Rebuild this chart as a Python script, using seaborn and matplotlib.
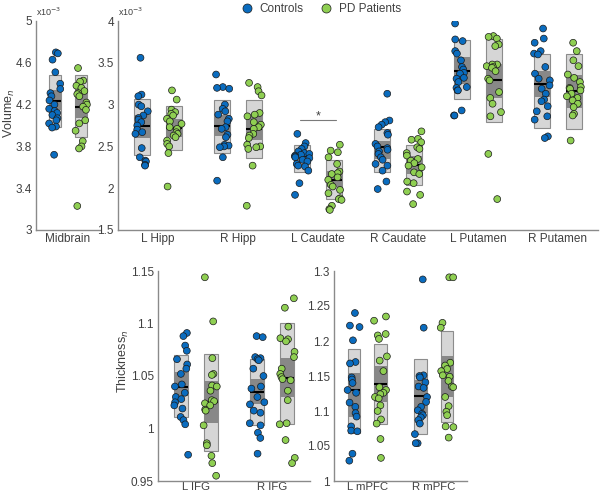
import numpy as np
import pandas as pd
import matplotlib
matplotlib.use("Agg")
import matplotlib.pyplot as plt
import seaborn as sns
from matplotlib.lines import Line2D
from matplotlib.ticker import FormatStrFormatter

# -------------------------------------------------------
# Data (volumes in x10^-3, thickness normalised)
# -------------------------------------------------------

groups = ["Controls", "PD Patients"]
colors = ["#0a6cbf", "#8fcf52"]

regions = ["Midbrain", "L Hipp", "R Hipp", "L Caudate", "R Caudate",
           "L Putamen", "R Putamen", "L IFG", "R IFG", "L mPFC", "R mPFC"]

ctrl_midbrain = [4.70, 4.69, 4.63, 4.51, 4.40, 4.35, 4.31, 4.28, 4.24, 4.20,
                 4.16, 4.14, 4.12, 4.10, 4.07, 4.05, 4.02, 3.99, 3.98, 3.72]
pd_midbrain = [4.55, 4.43, 4.42, 4.38, 4.36, 4.33, 4.31, 4.30, 4.28, 4.22,
               4.20, 4.18, 4.15, 4.05, 4.02, 3.95, 3.85, 3.80, 3.78, 3.23]

ctrl_lhipp = [3.56, 3.12, 3.10, 3.00, 2.98, 2.92, 2.87, 2.84, 2.82, 2.79,
              2.75, 2.70, 2.67, 2.65, 2.48, 2.37, 2.33, 2.32, 2.28, 2.27]
pd_lhipp = [3.17, 3.06, 2.94, 2.91, 2.89, 2.87, 2.83, 2.80, 2.77, 2.73,
            2.71, 2.67, 2.65, 2.63, 2.61, 2.57, 2.53, 2.50, 2.42, 2.02]

ctrl_rhipp = [3.36, 3.21, 3.20, 3.19, 3.00, 2.95, 2.92, 2.88, 2.83, 2.80,
              2.73, 2.71, 2.64, 2.61, 2.52, 2.51, 2.50, 2.49, 2.37, 2.09]
pd_rhipp = [3.26, 3.21, 3.16, 3.11, 2.90, 2.88, 2.86, 2.79, 2.76, 2.73,
            2.71, 2.65, 2.63, 2.60, 2.52, 2.50, 2.49, 2.47, 2.27, 1.79]

ctrl_lcaud = [2.65, 2.54, 2.50, 2.47, 2.44, 2.42, 2.41, 2.40, 2.39, 2.38,
              2.37, 2.36, 2.34, 2.32, 2.29, 2.27, 2.26, 2.21, 2.06, 1.92]
pd_lcaud = [2.52, 2.45, 2.43, 2.37, 2.29, 2.20, 2.18, 2.17, 2.13, 2.10,
            2.04, 2.02, 1.98, 1.94, 1.88, 1.87, 1.86, 1.79, 1.75, 1.74]

ctrl_rcaud = [3.13, 2.81, 2.79, 2.76, 2.73, 2.66, 2.64, 2.53, 2.50, 2.48,
              2.46, 2.44, 2.41, 2.37, 2.34, 2.29, 2.27, 2.21, 2.08, 1.99]
pd_rcaud = [2.68, 2.59, 2.58, 2.55, 2.49, 2.47, 2.42, 2.39, 2.35, 2.33,
            2.30, 2.27, 2.25, 2.19, 2.17, 2.08, 2.06, 1.96, 1.92, 1.81]

ctrl_lput = [3.97, 3.78, 3.76, 3.64, 3.61, 3.53, 3.45, 3.42, 3.38, 3.37,
             3.32, 3.31, 3.27, 3.21, 3.20, 3.17, 3.17, 2.93, 2.87, 2.87]
pd_lput = [3.82, 3.81, 3.79, 3.72, 3.70, 3.48, 3.48, 3.46, 3.45, 3.44,
           3.40, 3.31, 3.29, 3.15, 3.08, 3.01, 2.91, 2.86, 2.41, 1.87]

ctrl_rput = [3.91, 3.79, 3.74, 3.64, 3.61, 3.60, 3.45, 3.37, 3.31, 3.29,
             3.23, 3.19, 3.13, 3.06, 3.04, 2.98, 2.92, 2.86, 2.82, 2.62, 2.60]
pd_rput = [3.74, 3.64, 3.53, 3.46, 3.36, 3.32, 3.27, 3.21, 3.20, 3.19,
           3.17, 3.13, 3.10, 3.08, 3.05, 3.01, 2.97, 2.89, 2.87, 2.57]

ctrl_lifg = [1.091, 1.088, 1.079, 1.074, 1.066, 1.061, 1.057, 1.052, 1.042, 1.040,
             1.034, 1.030, 1.028, 1.025, 1.022, 1.019, 1.011, 1.008, 1.004, 0.975]
pd_lifg = [1.144, 1.102, 1.067, 1.052, 1.051, 1.041, 1.040, 1.036, 1.027, 1.026,
           1.024, 1.022, 1.018, 1.017, 1.003, 0.986, 0.984, 0.974, 0.967, 0.955]

ctrl_rifg = [1.088, 1.087, 1.068, 1.067, 1.066, 1.065, 1.057, 1.050, 1.040, 1.038,
             1.030, 1.025, 1.023, 1.017, 1.015, 1.005, 1.003, 0.996, 0.991, 0.976]
pd_rifg = [1.124, 1.115, 1.097, 1.086, 1.085, 1.083, 1.073, 1.068, 1.057, 1.052,
           1.049, 1.047, 1.046, 1.036, 1.027, 1.005, 1.004, 0.989, 0.972, 0.967]

ctrl_lmpfc = [1.240, 1.222, 1.220, 1.201, 1.170, 1.168, 1.148, 1.145, 1.140, 1.130,
              1.126, 1.112, 1.106, 1.097, 1.092, 1.078, 1.072, 1.071, 1.039, 1.029]
pd_lmpfc = [1.235, 1.229, 1.210, 1.208, 1.203, 1.178, 1.172, 1.157, 1.134, 1.130,
            1.126, 1.124, 1.120, 1.118, 1.108, 1.100, 1.088, 1.082, 1.060, 1.033]

ctrl_rmpfc = [1.288, 1.219, 1.151, 1.150, 1.148, 1.141, 1.135, 1.133, 1.120, 1.113,
              1.106, 1.101, 1.096, 1.094, 1.091, 1.087, 1.082, 1.067, 1.054, 1.054]
pd_rmpfc = [1.291, 1.291, 1.226, 1.219, 1.169, 1.165, 1.160, 1.157, 1.151, 1.149,
            1.143, 1.135, 1.134, 1.120, 1.107, 1.099, 1.094, 1.078, 1.077, 1.062]

# box stats: mean, +-1 SD (light box), 95% CI (dark box)
ctrl_mean = [4.23, 2.74, 2.74, 2.38, 2.49, 3.40, 3.25, 1.040, 1.035, 1.130, 1.121]
ctrl_sd_lo = [3.99, 2.40, 2.42, 2.19, 2.19, 3.07, 2.72, 1.011, 1.003, 1.069, 1.067]
ctrl_sd_hi = [4.48, 3.07, 3.06, 2.52, 2.71, 3.77, 3.60, 1.070, 1.066, 1.189, 1.175]
ctrl_ci_lo = [4.15, 2.60, 2.63, 2.31, 2.35, 3.25, 3.09, 1.031, 1.023, 1.091, 1.097]
ctrl_ci_hi = [4.34, 2.88, 2.88, 2.44, 2.57, 3.57, 3.40, 1.054, 1.047, 1.154, 1.144]

pd_mean = [4.18, 2.72, 2.71, 2.10, 2.28, 3.29, 3.16, 1.025, 1.048, 1.139, 1.150]
pd_sd_lo = [3.89, 2.46, 2.36, 1.87, 2.04, 2.79, 2.71, 0.979, 1.004, 1.081, 1.084]
pd_sd_hi = [4.48, 2.98, 3.05, 2.34, 2.52, 3.79, 3.60, 1.071, 1.100, 1.196, 1.214]
pd_ci_lo = [4.07, 2.61, 2.58, 2.01, 2.17, 3.08, 2.96, 1.005, 1.030, 1.113, 1.120]
pd_ci_hi = [4.31, 2.83, 2.86, 2.21, 2.39, 3.49, 3.35, 1.045, 1.067, 1.164, 1.178]

ctrl_points = [ctrl_midbrain, ctrl_lhipp, ctrl_rhipp, ctrl_lcaud, ctrl_rcaud,
               ctrl_lput, ctrl_rput, ctrl_lifg, ctrl_rifg, ctrl_lmpfc, ctrl_rmpfc]
pd_points = [pd_midbrain, pd_lhipp, pd_rhipp, pd_lcaud, pd_rcaud,
             pd_lput, pd_rput, pd_lifg, pd_rifg, pd_lmpfc, pd_rmpfc]

rows = []
for name, c_vals, p_vals in zip(regions, ctrl_points, pd_points):
    rows += [(name, "Controls", v) for v in c_vals]
    rows += [(name, "PD Patients", v) for v in p_vals]
df = pd.DataFrame(rows, columns=["region", "group", "value"])

stats = {
    "Controls": (ctrl_mean, ctrl_sd_lo, ctrl_sd_hi, ctrl_ci_lo, ctrl_ci_hi),
    "PD Patients": (pd_mean, pd_sd_lo, pd_sd_hi, pd_ci_lo, pd_ci_hi),
}

# -------------------------------------------------------
# Style
# -------------------------------------------------------

sns.set_theme(style="white")
plt.rcParams["font.family"] = ["Liberation Sans", "DejaVu Sans"]
plt.rcParams["font.size"] = 8
text_col = "#404040"
axis_col = "#8a8a8a"

np.random.seed(3)

fig = plt.figure(figsize=(6, 4.97), dpi=100)


def draw_panel(rect, names, ylim, yticks):
    ax = fig.add_axes(rect)
    sub = df[df["region"].isin(names)]
    sns.stripplot(
        data=sub, x="region", y="value", hue="group",
        order=names, hue_order=groups, palette=colors,
        dodge=True, jitter=0.2, size=4.9,
        edgecolor="#1a1a1a", linewidth=0.5,
        legend=False, zorder=3, ax=ax
    )
    bw = 0.19
    for j, grp in enumerate(groups):
        mean, sd_lo, sd_hi, ci_lo, ci_hi = stats[grp]
        for i, name in enumerate(names):
            k = regions.index(name)
            x = i + (j - 0.5) * 0.4
            ax.bar(x, sd_hi[k] - sd_lo[k], bottom=sd_lo[k], width=bw,
                   color="#d6d6d6", edgecolor="#8c8c8c", linewidth=0.8, zorder=1)
            ax.bar(x, ci_hi[k] - ci_lo[k], bottom=ci_lo[k], width=bw,
                   color="#888888", linewidth=0, zorder=1.2)
            ax.plot([x - bw / 2, x + bw / 2], [mean[k], mean[k]],
                    color="black", lw=1.5, zorder=1.5, solid_capstyle="butt")

    ax.set_xlim(-0.5, len(names) - 0.5)
    ax.set_ylim(*ylim)
    ax.set_yticks(yticks)
    ax.yaxis.set_major_formatter(FormatStrFormatter("%g"))
    ax.set_xticks(range(len(names)))
    ax.set_xticklabels(names)
    ax.set_xticks([i + d for i in range(len(names)) for d in (-0.2, 0.2)], minor=True)
    ax.tick_params(axis="x", which="major", length=0, pad=2, colors=text_col, labelsize=8.5)
    ax.tick_params(axis="x", which="minor", length=2.5, direction="in", color=axis_col, width=0.8)
    ax.tick_params(axis="y", length=2.5, direction="in", color=axis_col, width=0.8,
                   pad=3, labelcolor=text_col, labelsize=8.5)
    ax.set_xlabel("")
    ax.set_ylabel("")
    sns.despine(ax=ax)
    for side in ("left", "bottom"):
        ax.spines[side].set_color(axis_col)
        ax.spines[side].set_linewidth(1.0)
    ax.patch.set_alpha(0)
    return ax


ax1 = draw_panel([36 / 600, 1 - 230 / 497, 64 / 600, 209 / 497],
                 ["Midbrain"], (3, 5), [3, 3.4, 3.8, 4.2, 4.6, 5])
ax2 = draw_panel([118 / 600, 1 - 230 / 497, 480 / 600, 209 / 497],
                 regions[1:7], (1.5, 4), [1.5, 2, 2.5, 3, 3.5, 4])
ax3 = draw_panel([158 / 600, 1 - 481 / 497, 152 / 600, 210 / 497],
                 ["L IFG", "R IFG"], (0.95, 1.15), [0.95, 1, 1.05, 1.1, 1.15])
ax4 = draw_panel([334 / 600, 1 - 481 / 497, 133 / 600, 210 / 497],
                 ["L mPFC", "R mPFC"], (1, 1.3), [1, 1.05, 1.1, 1.15, 1.2, 1.25, 1.3])

# bottom row labels sit tight against the axis
for ax in (ax3, ax4):
    ax.tick_params(axis="x", which="major", pad=0.5, labelsize=8.2)

# axis labels and multipliers
ax1.set_ylabel(r"Volume$_n$", color=text_col, fontsize=9)
ax1.yaxis.set_label_coords(-0.30, 0.56)
ax3.set_ylabel(r"Thickness$_n$", color=text_col, fontsize=9)
ax3.yaxis.set_label_coords(-0.18, 0.57)
for ax in (ax1, ax2):
    ax.text(0.0, 1.015, r"x10$^{-3}$", transform=ax.transAxes,
            ha="left", va="bottom", fontsize=6.5, color=text_col)

# significance marker on L Caudate
ax2.plot([1.77, 2.22], [2.82, 2.82], color="#7a7a7a", lw=0.8)
ax2.text(2.0, 2.86, "*", ha="center", va="center", fontsize=9, color=text_col)

# legend
handles = [Line2D([], [], marker="o", ls="", markersize=6.5, markerfacecolor=c,
                  markeredgecolor="#1a1a1a", markeredgewidth=0.5) for c in colors]
fig.legend(handles, groups, loc="upper center", bbox_to_anchor=(0.53, 1.015),
           ncol=2, frameon=False, handletextpad=0.1, columnspacing=0.9,
           fontsize=8.5, labelcolor=text_col)

plt.savefig("out.png", dpi=100)
plt.close()
